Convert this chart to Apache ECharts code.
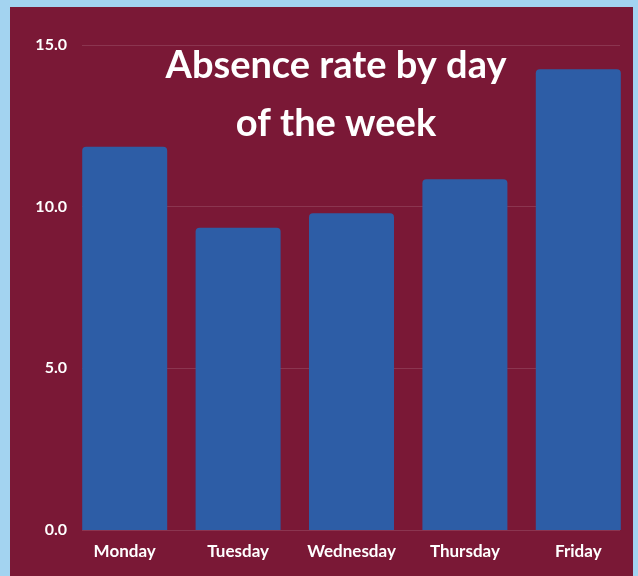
<!DOCTYPE html>
<html>
<head>
<meta charset="utf-8">
<script src="https://cdn.jsdelivr.net/npm/echarts@6/dist/echarts.min.js"></script>
<style>
html,body{margin:0;padding:0;background:#a3d3f0;}
#panel{position:absolute;left:10px;top:7px;width:623px;height:569px;background:#7a1836;}
#chart{position:absolute;left:0;top:0;width:638px;height:576px;}
</style>
</head>
<body>
<div id="panel"></div>
<div id="chart"></div>
<script>
const days = ['Monday', 'Tuesday', 'Wednesday', 'Thursday', 'Friday'];
const absenceRate = [11.85, 9.35, 9.8, 10.85, 14.25];
const yTicks = [0, 5, 10, 15];
const titleText = 'Absence rate by day\nof the week';

const FONT = 'Lato, "Open Sans", sans-serif';
const chart = echarts.init(document.getElementById('chart'), null, {renderer: 'canvas'});
chart.setOption({
  backgroundColor: 'transparent',
  animation: false,
  graphic: [{
    type: 'text',
    z: 100,
    style: {
      text: titleText,
      x: 336, y: 37,
      textAlign: 'center',
      textVerticalAlign: 'top',
      fill: '#ffffff',
      font: 'bold 38px ' + FONT,
      lineHeight: 58
    }
  }],
  grid: [
    {left: 68, right: 3, top: 45, bottom: 46},
    {left: 82, right: 18, top: 45, bottom: 46}
  ],
  xAxis: [
    {
      type: 'category', gridIndex: 0, data: days,
      axisLine: {show: false}, axisTick: {show: false},
      axisLabel: {color: '#ffffff', fontFamily: FONT, fontWeight: 'bold', fontSize: 17, margin: 13,
        interval: 0, hideOverlap: false}
    },
    {type: 'value', gridIndex: 1, show: false, min: 0, max: 1}
  ],
  yAxis: [
    {type: 'value', gridIndex: 0, min: 0, max: 15, show: false},
    {
      type: 'value', gridIndex: 1, min: yTicks[0], max: yTicks[yTicks.length - 1], interval: 5,
      axisLine: {show: false}, axisTick: {show: false},
      axisLabel: {color: '#ffffff', fontFamily: FONT, fontWeight: 'bold', fontSize: 16, margin: 15,
        formatter: v => v.toFixed(1)},
      splitLine: {show: true, lineStyle: {color: 'rgba(255,255,255,0.13)', width: 1}}
    }
  ],
  series: [{
    type: 'bar',
    xAxisIndex: 0, yAxisIndex: 0,
    data: absenceRate,
    barWidth: 85,
    itemStyle: {color: '#2d5da6', borderRadius: [4, 4, 0, 0]}
  }]
});
</script>
</body>
</html>
